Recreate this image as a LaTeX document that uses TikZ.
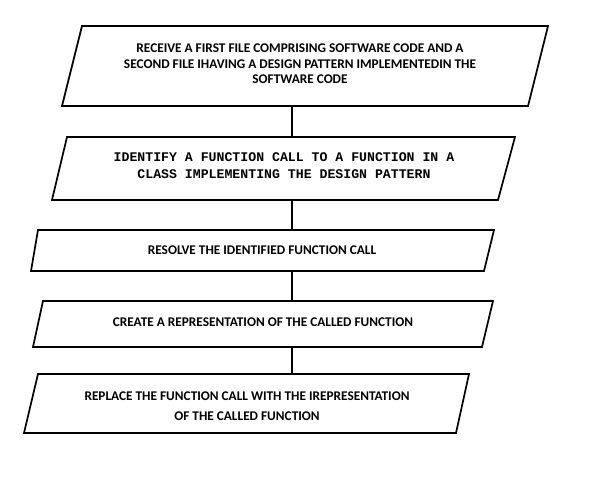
\documentclass[tikz,border=0pt]{standalone}
\usepackage{fontspec}
\setmainfont{Carlito}
\newfontfamily\monob{Liberation Mono}
\begin{document}
\begin{tikzpicture}[x=1pt,y=-1pt,
  box/.style={draw=black,line width=1.7pt,line join=miter},
  lbl/.style={font=\bfseries\fontsize{13.3}{15.5}\selectfont,align=center,inner sep=0pt},
  lblw/.style={font=\bfseries\fontsize{13.3}{20.5}\selectfont,align=center,inner sep=0pt},
  mlbl/.style={font=\monob\bfseries\fontsize{13.2}{17}\selectfont,align=center,inner sep=0pt},
  link/.style={line width=1.7pt}]
\useasboundingbox (0,0) rectangle (603,486);
\fill[white] (0,0) rectangle (603,486);
% box 1
\draw[box] (82,26) -- (548,26) -- (528,106) -- (62,106) -- cycle;
\node[lbl] (t1) at (300,64) {RECEIVE A FIRST FILE COMPRISING SOFTWARE CODE AND A\\SECOND FILE IHAVING A DESIGN PATTERN IMPLEMENTEDIN THE\\SOFTWARE CODE};
\coordinate (b1s) at (292,106);
% box 2
\draw[box] (67,137) -- (515,137) -- (498,200) -- (52,200) -- cycle;
\node[mlbl] (t2) at (284,166) {IDENTIFY A FUNCTION CALL TO A FUNCTION IN A\\CLASS IMPLEMENTING THE DESIGN PATTERN};
\coordinate (b2n) at (292,137);
\coordinate (b2s) at (292,200);
% box 3
\draw[box] (38,230) -- (494,230) -- (484,271) -- (31,271) -- cycle;
\node[lbl] (t3) at (262,250) {RESOLVE THE IDENTIFIED FUNCTION CALL};
\coordinate (b3n) at (292,230);
\coordinate (b3s) at (292,271);
% box 4
\draw[box] (43,301) -- (493,301) -- (482,347) -- (33,347) -- cycle;
\node[lbl] (t4) at (263,322) {CREATE A REPRESENTATION OF THE CALLED FUNCTION};
\coordinate (b4n) at (292,301);
\coordinate (b4s) at (292,347);
% box 5
\draw[box] (38,374) -- (469,374) -- (456,433) -- (24,433) -- cycle;
\node[lblw] (t5) at (247,406) {REPLACE THE FUNCTION CALL WITH THE IREPRESENTATION\\OF THE CALLED FUNCTION};
\coordinate (b5n) at (292,374);
% connectors
\draw[link] (b1s) -- (b2n);
\draw[link] (b2s) -- (b3n);
\draw[link] (b3s) -- (b4n);
\draw[link] (b4s) -- (b5n);
\end{tikzpicture}
\end{document}
